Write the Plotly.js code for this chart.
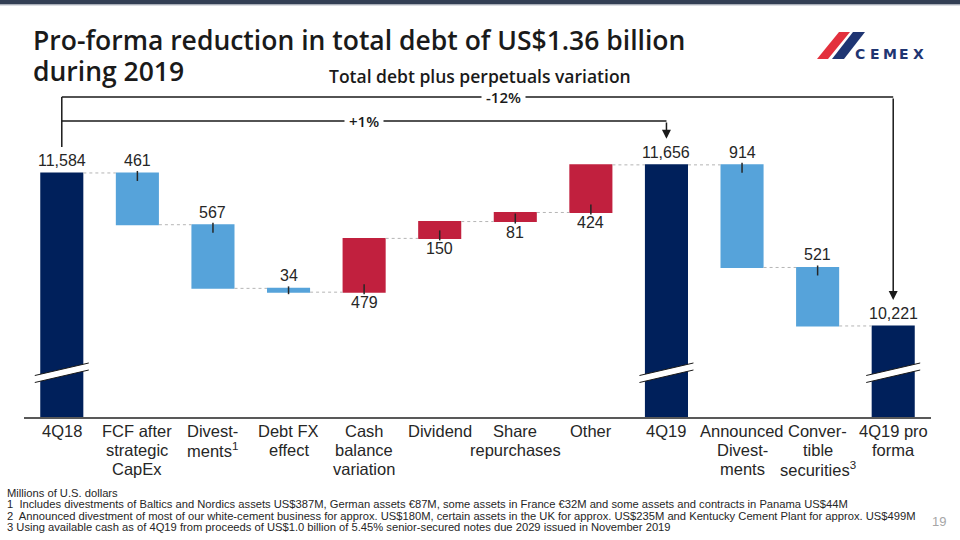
<!DOCTYPE html>
<html><head><meta charset="utf-8">
<script src="https://cdn.plot.ly/plotly-3.0.1.min.js"></script>
<style>html,body{margin:0;padding:0;background:#fff;}#chart{width:960px;height:540px;}</style>
</head><body><div id="chart"></div>
<script>
// ---------- data ----------
const categories = ['4Q18','FCF after strategic CapEx','Divestments','Debt FX effect','Cash balance variation','Dividend','Share repurchases','Other','4Q19','Announced Divestments','Convertible securities','4Q19 pro forma'];
const tickLabelLines = [['4Q18'],['FCF after','strategic','CapEx'],['Divest-','ments<sup>1</sup>'],['Debt FX','effect'],['Cash','balance','variation'],['Dividend'],['Share','repurchases'],['Other'],['4Q19'],['Announced','Divest-','ments'],['Conver-','tible','securities<sup>3</sup>'],['4Q19 pro','forma']];
const measures = ['absolute','relative','relative','relative','relative','relative','relative','relative','total','relative','relative','total'];
const values = [11584,-461,-567,-34,479,150,81,424,11656,-914,-521,10221];
const changeLabels = ['+1%','-12%'];
const changeFrom = [0,0];
const changeTo = [8,11];
const titleLines = ['Pro-forma reduction in total debt of US$1.36 billion','during 2019'];
const subtitle = 'Total debt plus perpetuals variation';
const footnotes = ['Millions of U.S. dollars',
 '1  Includes divestments of Baltics and Nordics assets US$387M, German assets €87M, some assets in France €32M and some assets and contracts in Panama US$44M',
 '2  Announced divestment of most of our white-cement business for approx. US$180M, certain assets in the UK for approx. US$235M and Kentucky Cement Plant for approx. US$499M',
 '3 Using available cash as of 4Q19 from proceeds of US$1.0 billion of 5.45% senior-secured notes due 2029 issued in November 2019'];
const pageNumber = '19';

// ---------- styling / geometry ----------
const NAVY='#00205b', BLUE='#56a3da', RED='#c1203e';
const L=24,R=29,T=90,B=123,WID=960,HEI=540;
const W=WID-L-R,H=HEI-T-B;
const Y0=9410,Y1=12323;
const bracketLevels=[12047,12261];
const unitsPerPx=(Y1-Y0)/H;
const N=categories.length;
const px=x=>(x-L)/W, py=y=>(HEI-B-y)/H;
const catPx=i=>L+(i+0.5)*W/N;
const FONT='"Liberation Sans", Arial, sans-serif';
const HFONT='"Open Sans", "Liberation Sans", sans-serif';
const TXT='#262626';

// cumulative starts / ends
const starts=[],ends=[];
let cum=0;
values.forEach((v,i)=>{
  if(measures[i]==='absolute'){starts.push(0);cum=v;}
  else if(measures[i]==='total'){starts.push(0);}
  else {starts.push(cum);cum+=v;}
  ends.push(cum);
});

const annotations=[], shapes=[];
function txt(o){ return Object.assign({showarrow:false,xanchor:'center',yanchor:'middle'},o); }
// value labels + ticks
values.forEach((v,i)=>{
  const lbl=Math.abs(v).toLocaleString('en-US');
  const f={family:FONT,size:16,color:TXT};
  if(measures[i]!=='relative'){
    annotations.push(txt({x:i,y:ends[i],xref:'x',yref:'y',text:lbl,yanchor:'bottom',yshift:2,font:f}));
  } else {
    const inside=Math.min(8,Math.abs(v)/unitsPerPx+2);
    if(v<0){
      annotations.push(txt({x:i,y:starts[i],xref:'x',yref:'y',text:lbl,yanchor:'bottom',yshift:2,font:f}));
      shapes.push({type:'line',xref:'x',yref:'y',x0:i,x1:i,ysizemode:'pixel',yanchor:starts[i],y0:2,y1:-inside,line:{color:TXT,width:1.5}});
    } else {
      annotations.push(txt({x:i,y:starts[i],xref:'x',yref:'y',text:lbl,yanchor:'top',yshift:0,font:f}));
      shapes.push({type:'line',xref:'x',yref:'y',x0:i,x1:i,ysizemode:'pixel',yanchor:starts[i],y0:-2,y1:inside,line:{color:TXT,width:1.5}});
    }
  }
});
// category labels (line by line)
tickLabelLines.forEach((lines,i)=>{
  lines.forEach((t,j)=>{
    annotations.push(txt({x:i,xref:'x',yref:'paper',y:0,yshift:-(14+19*j),text:t,font:{family:FONT,size:16.5,color:TXT}}));
  });
});
// brackets
changeLabels.forEach((lab,k)=>{
  const lev=bracketLevels[k];
  shapes.push({type:'line',xref:'x',yref:'y',x0:changeFrom[k],x1:changeTo[k],y0:lev,y1:lev,line:{color:'#1a1a1a',width:1.5}});
  const to=changeTo[k];
  annotations.push({x:to,y:ends[to],xref:'x',yref:'y',axref:'x',ayref:'y',ax:to,ay:lev,text:'',showarrow:true,arrowhead:2,arrowsize:1.2,arrowwidth:1.5,arrowcolor:'#1a1a1a',standoff:26});
  annotations.push(txt({x:px(k===0?364:503),xref:'paper',y:lev,yref:'y',text:lab,bgcolor:'#ffffff',borderpad:4,font:{family:HFONT,size:15,weight:600,color:'#1a1a1a'}}));
});
// left vertical of bracket
shapes.push({type:'line',xref:'x',yref:'y',x0:changeFrom[0],x1:changeFrom[0],y0:Math.max(...bracketLevels),y1:ends[0]+26*unitsPerPx,line:{color:'#1a1a1a',width:1.5}});

// axis break marks on full bars
measures.forEach((m,i)=>{
  if(m==='relative') return;
  const c=catPx(i), h=27;
  const P=(x,y)=>px(x).toFixed(5)+','+py(y).toFixed(5);
  shapes.push({type:'path',xref:'paper',yref:'paper',path:'M'+P(c-h,375.5)+' L'+P(c+h,363)+' L'+P(c+h,370)+' L'+P(c-h,382.5)+' Z',fillcolor:'#ffffff',line:{width:0}});
  shapes.push({type:'path',xref:'paper',yref:'paper',path:'M'+P(c-h,375.5)+' L'+P(c+h,363),line:{color:'#1a1a1a',width:1}});
  shapes.push({type:'path',xref:'paper',yref:'paper',path:'M'+P(c-h,382.5)+' L'+P(c+h,370),line:{color:'#1a1a1a',width:1}});
});

// top banner
shapes.push({type:'rect',xref:'paper',yref:'paper',x0:px(0),x1:px(960),y0:py(0),y1:py(4.5),fillcolor:'#333f54',line:{width:0},layer:'above'});
shapes.push({type:'rect',xref:'paper',yref:'paper',x0:px(0),x1:px(960),y0:py(4.5),y1:py(5.5),fillcolor:'#b9bec7',line:{width:0},layer:'above'});
// logo
const LP=(pts)=>'M'+pts.map(p=>px(p[0]).toFixed(5)+','+py(p[1]).toFixed(5)).join(' L')+' Z';
shapes.push({type:'path',xref:'paper',yref:'paper',path:LP([[817,59],[828,59],[850,32],[839,32]]),fillcolor:'#e3303d',line:{width:0}});
shapes.push({type:'path',xref:'paper',yref:'paper',path:LP([[832,59],[844,59],[865,32],[853,32]]),fillcolor:'#1f3572',line:{width:0}});
['C','E','M','E','X'].forEach((ch,i)=>{
  annotations.push(txt({x:px(853+(i+0.5)*73/5),xref:'paper',y:py(54),yref:'paper',text:ch,font:{family:'"DejaVu Sans", sans-serif',size:14,weight:700,color:'#1f3572'}}));
});

// titles
annotations.push(txt({x:px(31),xref:'paper',xanchor:'left',y:py(40.5),yref:'paper',text:titleLines[0],font:{family:HFONT,size:26.5,weight:600,color:'#1a1a1a'}}));
annotations.push(txt({x:px(31),xref:'paper',xanchor:'left',y:py(71),yref:'paper',text:titleLines[1],font:{family:HFONT,size:26.5,weight:600,color:'#1a1a1a'}}));
annotations.push(txt({x:px(480),xref:'paper',y:py(76),yref:'paper',text:subtitle,font:{family:HFONT,size:17.5,weight:600,color:'#1a1a1a'}}));
// footnotes
const fnY=[493,504,515.5,527];
footnotes.forEach((t,i)=>{
  annotations.push(txt({x:px(5),xref:'paper',xanchor:'left',y:py(fnY[i]),yref:'paper',text:t,font:{family:FONT,size:11.2,color:TXT}}));
});
annotations.push(txt({x:px(939),xref:'paper',y:py(521),yref:'paper',text:pageNumber,font:{family:FONT,size:13,color:'#a6a6a6'}}));

const trace={type:'waterfall',x:categories,y:values,measure:measures,textinfo:'none',hoverinfo:'skip',
  increasing:{marker:{color:RED}},decreasing:{marker:{color:BLUE}},totals:{marker:{color:NAVY}},
  connector:{mode:'between',line:{color:'#b5b5b5',width:1,dash:'dot'}}};

const layout={width:WID,height:HEI,margin:{l:L,r:R,t:T,b:B,pad:0},paper_bgcolor:'#fff',plot_bgcolor:'#fff',
  showlegend:false,waterfallgap:0.43,
  xaxis:{type:'category',showticklabels:false,ticks:'',showgrid:false,zeroline:false,showline:true,linecolor:'#595959',linewidth:2,fixedrange:true},
  yaxis:{range:[Y0,Y1],visible:false,showgrid:false,zeroline:false,fixedrange:true},
  annotations:annotations,shapes:shapes};
Plotly.newPlot('chart',[trace],layout,{displayModeBar:false,staticPlot:true});
</script></body></html>
